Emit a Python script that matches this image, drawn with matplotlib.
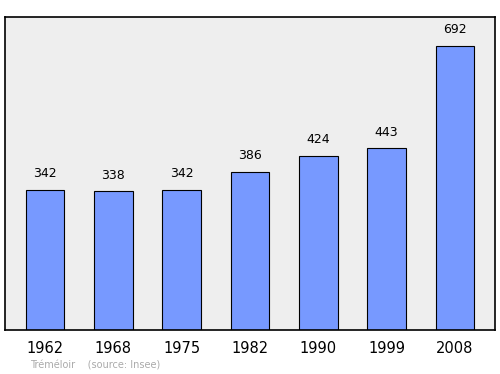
import matplotlib
matplotlib.use("Agg")
import matplotlib.pyplot as plt

years = ["1962", "1968", "1975", "1982", "1990", "1999", "2008"]
population = [342, 338, 342, 386, 424, 443, 692]

fig = plt.figure(figsize=(5, 3.74), dpi=100)
ax = fig.add_axes([0.01, 0.1176, 0.98, 0.837])
ax.set_facecolor("#eeeeee")
x = range(len(years))
ax.bar(x, population, width=0.57, color="#7799ff", edgecolor="black", linewidth=0.8)
for xi, v in zip(x, population):
    ax.annotate(str(v), (xi, v), xytext=(0, 7), textcoords="offset points",
                ha="center", va="bottom", fontsize=9)
ax.set_xlim(-0.585, 6.585)
ax.set_ylim(0, 763)
ax.set_yticks([])
ax.set_xticks(list(x))
ax.set_xticklabels(years, fontsize=10.5)
ax.tick_params(axis="x", length=0, pad=8)
for s in ax.spines.values():
    s.set_linewidth(1.2)
fig.text(0.06, 0.014, "Tréméloir    (source: Insee)", fontsize=7, color="#aaaaaa")
fig.savefig("out.png", dpi=100, facecolor="white")
